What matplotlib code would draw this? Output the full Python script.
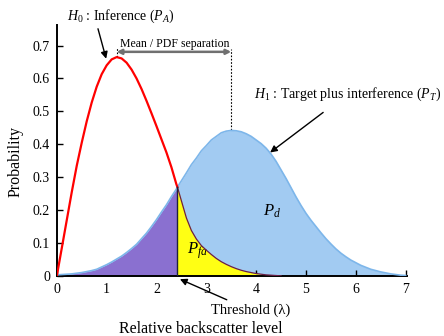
import matplotlib
matplotlib.use("Agg")
import matplotlib.pyplot as plt

plt.rcParams['font.family'] = ['Liberation Serif', 'DejaVu Serif']
plt.rcParams['mathtext.fontset'] = 'custom'
plt.rcParams['mathtext.rm'] = 'Liberation Serif'
plt.rcParams['mathtext.it'] = 'Liberation Serif:italic'

# backscatter level grid and the two densities read along it
level = [0.0, 0.1, 0.2, 0.3, 0.4, 0.5, 0.6, 0.7, 0.8, 0.9,
         1.0, 1.1, 1.2, 1.3, 1.4, 1.5, 1.6, 1.7, 1.8, 1.9,
         2.0, 2.1, 2.2, 2.3, 2.4, 2.42, 2.5, 2.6, 2.7, 2.8, 2.9,
         3.0, 3.1, 3.2, 3.3, 3.4, 3.5, 3.6, 3.7, 3.8, 3.9,
         4.0, 4.1, 4.2, 4.3, 4.4, 4.5, 4.6, 4.7, 4.8, 4.9,
         5.0, 5.1, 5.2, 5.3, 5.4, 5.5, 5.6, 5.7, 5.8, 5.9,
         6.0, 6.1, 6.2, 6.3, 6.4, 6.5, 6.6, 6.7, 6.8, 6.9, 7.0]
p_interf = [0.0, 0.085, 0.17, 0.255, 0.335, 0.405, 0.47, 0.527, 0.575, 0.613,
            0.64, 0.658, 0.665, 0.661, 0.648, 0.627, 0.6, 0.568, 0.532, 0.494,
            0.455, 0.415, 0.375, 0.33, 0.278, 0.27, 0.228, 0.176, 0.138, 0.112, 0.092,
            0.078, 0.065, 0.053, 0.043, 0.035, 0.028, 0.022, 0.017, 0.013, 0.01,
            0.007, 0.005, 0.003, 0.002, 0.001, 0.0, 0.0, 0.0, 0.0, 0.0,
            0.0, 0.0, 0.0, 0.0, 0.0, 0.0, 0.0, 0.0, 0.0, 0.0,
            0.0, 0.0, 0.0, 0.0, 0.0, 0.0, 0.0, 0.0, 0.0, 0.0, 0.0]
p_target = [0.003, 0.004, 0.005, 0.006, 0.008, 0.01, 0.013, 0.016, 0.02, 0.027,
            0.034, 0.042, 0.051, 0.06, 0.071, 0.083, 0.096, 0.113, 0.13, 0.15,
            0.171, 0.194, 0.216, 0.241, 0.264, 0.27, 0.289, 0.313, 0.338, 0.358, 0.38,
            0.396, 0.413, 0.424, 0.435, 0.44, 0.442, 0.441, 0.438, 0.432, 0.424,
            0.413, 0.402, 0.388, 0.37, 0.348, 0.322, 0.296, 0.268, 0.24, 0.214,
            0.19, 0.169, 0.15, 0.131, 0.113, 0.097, 0.082, 0.069, 0.058, 0.048,
            0.04, 0.032, 0.026, 0.02, 0.016, 0.012, 0.009, 0.006, 0.004, 0.002, 0.001]
threshold = 2.42
peak_interf = 1.2
peak_target = 3.5

xticks = [0, 1, 2, 3, 4, 5, 6, 7]
yticks = [0, 0.1, 0.2, 0.3, 0.4, 0.5, 0.6, 0.7]
ytick_labels = ['0', '0.1', '0.2', '0.3', '0.4', '0.5', '0.6', '0.7']

fig = plt.figure(figsize=(4.44, 3.36), dpi=100)
ax = fig.add_axes([0.128, 0.179, 0.789, 0.747])

below = [x <= threshold for x in level]
above = [x >= threshold for x in level]

ax.fill_between(level, 0, p_target, color='#a2cbf2', lw=0, zorder=1)
ax.fill_between(level, 0, p_target, where=below, color='#8a70d0', lw=0, zorder=2)
ax.fill_between(level, 0, p_interf, where=above, color='#ffff14', lw=0, zorder=2)
ax.plot(level, p_target, color='#7db6ea', lw=1.2, zorder=3)

n = level.index(threshold)
end = level.index(4.5)
ax.plot(level[:n + 1], p_interf[:n + 1], color='#ff0000', lw=1.6, zorder=4)
ax.plot(level[n:end + 1], p_interf[n:end + 1], color='#6b1f45', lw=0.9, zorder=4)
ax.plot([threshold, threshold], [0, p_interf[n]], color='#202040', lw=1.0, zorder=4)

# separation marker between the two peaks
y_sep = 0.681
ax.plot([peak_interf, peak_interf], [0.666, 0.697], color='k', ls=(0, (1.5, 1.5)), lw=0.8)
ax.plot([peak_target, peak_target], [0.442, 0.69], color='k', ls=(0, (1.5, 1.5)), lw=0.8)
ax.annotate('', xy=(peak_interf, y_sep), xytext=(peak_target, y_sep),
            arrowprops=dict(arrowstyle='<|-|>', color='#707070', lw=1.8,
                            mutation_scale=7, shrinkA=0, shrinkB=0))
ax.text((peak_interf + peak_target) / 2 + 0.01, 0.695, 'Mean / PDF separation',
        ha='center', va='baseline', fontsize=8.5)

ax.annotate(r'$H_0$ : Inference ($P_A$)', xy=(0.99, 0.66), xytext=(0.2, 0.79),
            fontsize=10, ha='left', va='center', annotation_clip=False,
            arrowprops=dict(arrowstyle='-|>', color='k', lw=1.0,
                            mutation_scale=10, shrinkA=1, shrinkB=0,
                            relpos=(0.28, 0.0)))
ax.annotate(r'$H_1$ : Target plus interference ($P_T$)', xy=(4.28, 0.375),
            xytext=(3.95, 0.552), fontsize=10, ha='left', va='center',
            annotation_clip=False,
            arrowprops=dict(arrowstyle='-|>', color='k', lw=1.0,
                            mutation_scale=10, shrinkA=8, shrinkB=0))
ax.annotate(r'Threshold (λ)', xy=(2.47, -0.01), xytext=(3.1, -0.105),
            fontsize=10.5, ha='left', va='center', annotation_clip=False,
            arrowprops=dict(arrowstyle='-|>', color='k', lw=1.0,
                            mutation_scale=10, shrinkA=2, shrinkB=0))

ax.text(4.14, 0.196, r'$P_d$', fontsize=12, ha='left', va='center')
ax.text(2.62, 0.076, r'$P_{fa}$', fontsize=12, ha='left', va='center')

ax.set_xlim(0, 7.03)
ax.set_ylim(0, 0.763)
ax.set_xticks(xticks)
ax.set_yticks(yticks)
ax.set_yticklabels(ytick_labels)
ax.tick_params(direction='in', length=4, width=1, labelsize=10, pad=5)
for side in ['top', 'right']:
    ax.spines[side].set_visible(False)
for side in ['left', 'bottom']:
    ax.spines[side].set_linewidth(1.4)

fig.text(0.452, 0.02, 'Relative backscatter level', fontsize=11.5,
         ha='center', va='center')
fig.text(0.035, 0.52, 'Probability', fontsize=11.5, rotation=90,
         ha='center', va='center')

fig.savefig('out.png', dpi=100)
